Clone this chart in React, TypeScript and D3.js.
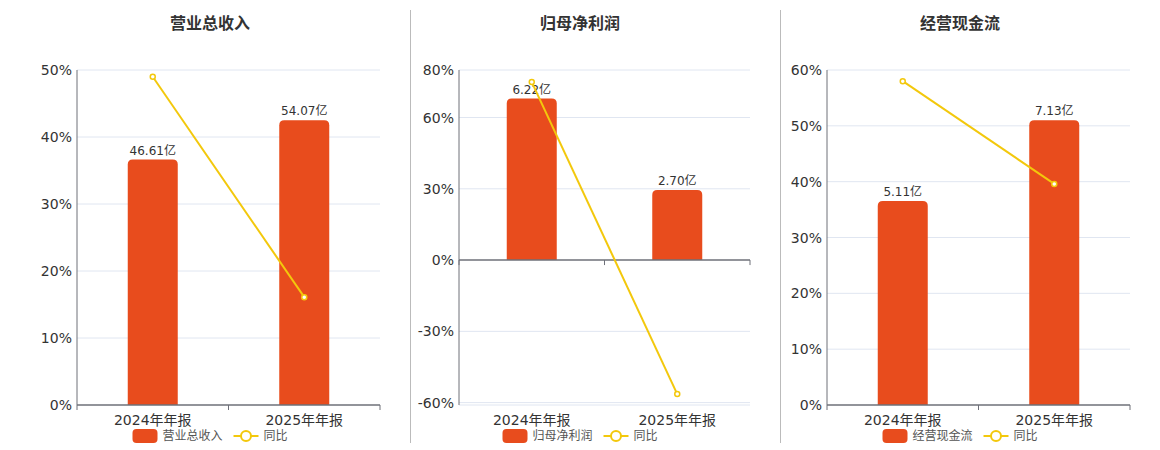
import * as d3 from "d3";

const categories = ["2024年年报", "2025年年报"];

const titles = ["营业总收入", "归母净利润", "经营现金流"];

// bar values (亿) and year-on-year growth (%)
const revenue = [46.61, 54.07];
const revenueYoY = [49.0, 16.1];
const netProfit = [6.22, 2.7];
const netProfitYoY = [74.9, -56.4];
const cashFlow = [5.11, 7.13];
const cashFlowYoY = [58.0, 39.6];

const revenueTicks = [0, 10, 20, 30, 40, 50];
const netProfitTicks = [-60, -30, 0, 30, 60, 80];
const cashFlowTicks = [0, 10, 20, 30, 40, 50, 60];

const revenueDomain: [number, number] = [0, 50];
const netProfitDomain: [number, number] = [-61, 80];
const cashFlowDomain: [number, number] = [0, 60];

const BAR_COLOR = "#E84C1D";
const LINE_COLOR = "#F3C80C";
const GRID_COLOR = "#E0E6F1";
const AXIS_COLOR = "#6E7079";
const FONT = "'DejaVu Sans', 'Noto Sans CJK SC', sans-serif";

const top = 70;
const bottom = 405;

interface PanelProps {
  title: string;
  values: number[];
  yoy: number[];
  ticks: number[];
  domain: [number, number];
  center: number;
  left: number;
  right: number;
}

function roundedTop(x: number, y: number, w: number, h: number, r: number) {
  const rr = Math.min(r, h, w / 2);
  return `M${x},${y + h}V${y + rr}Q${x},${y} ${x + rr},${y}H${x + w - rr}Q${x + w},${y} ${x + w},${y + rr}V${y + h}Z`;
}

function Panel({ title, values, yoy, ticks, domain, center, left, right }: PanelProps) {
  const x = d3.scaleBand<string>().domain(categories).range([left, right]);
  const y = d3.scaleLinear().domain(domain).range([bottom, top]);

  // hidden value axis for the bars, zero aligned with the percent axis
  const barMax = d3.max(values)! / 0.85;
  const barMin = (barMax * domain[0]) / domain[1];
  const yBar = d3.scaleLinear().domain([barMin, barMax]).range([bottom, top]);

  const zeroY = y(0);
  const barW = 50;

  const line = d3
    .line<number>()
    .x((_, i) => x(categories[i])! + x.bandwidth() / 2)
    .y((d) => y(d));

  const legendW = 155;
  const lx = center - legendW / 2;
  const ly = 436;

  return (
    <g>
      <text
        x={center}
        y={29}
        textAnchor="middle"
        fontSize={16}
        fontWeight="bold"
        fill="#333"
      >
        {title}
      </text>

      {ticks.map((t) => (
        <g key={t}>
          {t !== 0 && (
            <line x1={left} x2={right} y1={y(t)} y2={y(t)} stroke={GRID_COLOR} />
          )}
          <text
            x={left - 5}
            y={y(t)}
            dy="0.36em"
            textAnchor="end"
            fontSize={14}
            fill="#333"
          >
            {t}%
          </text>
        </g>
      ))}
      {domain[0] < ticks[0] && (
        <line x1={left} x2={right} y1={bottom} y2={bottom} stroke={GRID_COLOR} />
      )}

      <line x1={left} x2={left} y1={top} y2={bottom} stroke={AXIS_COLOR} />

      {values.map((v, i) => {
        const bx = x(categories[i])! + (x.bandwidth() - barW) / 2;
        const by = yBar(v);
        return (
          <g key={i}>
            <path d={roundedTop(bx, by, barW, zeroY - by, 5)} fill={BAR_COLOR} />
            <text
              x={bx + barW / 2}
              y={by - 5}
              textAnchor="middle"
              fontSize={12}
              fill="#333"
            >
              {v.toFixed(2)}亿
            </text>
          </g>
        );
      })}

      <line x1={left} x2={right} y1={zeroY} y2={zeroY} stroke={AXIS_COLOR} strokeWidth={1.5} />
      {[left, ...categories.map((c) => x(c)! + x.bandwidth())].map((tx, i) => (
        <line key={i} x1={tx} x2={tx} y1={zeroY} y2={zeroY + 5} stroke={AXIS_COLOR} />
      ))}
      {categories.map((c) => (
        <text
          key={c}
          x={x(c)! + x.bandwidth() / 2}
          y={425}
          textAnchor="middle"
          fontSize={14}
          fill="#333"
        >
          {c}
        </text>
      ))}

      <path d={line(yoy)!} fill="none" stroke={LINE_COLOR} strokeWidth={2} />
      {yoy.map((v, i) => (
        <circle
          key={i}
          cx={x(categories[i])! + x.bandwidth() / 2}
          cy={y(v)}
          r={2.5}
          fill="#fff"
          stroke={LINE_COLOR}
          strokeWidth={1.5}
        />
      ))}

      <g>
        <rect x={lx} y={ly - 7} width={25} height={14} rx={4} fill={BAR_COLOR} />
        <text x={lx + 30} y={ly} dy="0.36em" fontSize={12} fill="#555">
          {title}
        </text>
        <line x1={lx + 101} x2={lx + 126} y1={ly} y2={ly} stroke={LINE_COLOR} strokeWidth={2} />
        <circle cx={lx + 113.5} cy={ly} r={5} fill="#fff" stroke={LINE_COLOR} strokeWidth={2} />
        <text x={lx + 131} y={ly} dy="0.36em" fontSize={12} fill="#555">
          同比
        </text>
      </g>
    </g>
  );
}

export default function App() {
  return (
    <svg
      width={1160}
      height={450}
      style={{ position: "absolute", left: 0, top: 0, background: "#fff" }}
      fontFamily={FONT}
    >
      <Panel
        title={titles[0]}
        values={revenue}
        yoy={revenueYoY}
        ticks={revenueTicks}
        domain={revenueDomain}
        center={210}
        left={77}
        right={380}
      />
      <Panel
        title={titles[1]}
        values={netProfit}
        yoy={netProfitYoY}
        ticks={netProfitTicks}
        domain={netProfitDomain}
        center={580}
        left={459}
        right={750}
      />
      <Panel
        title={titles[2]}
        values={cashFlow}
        yoy={cashFlowYoY}
        ticks={cashFlowTicks}
        domain={cashFlowDomain}
        center={960}
        left={827}
        right={1130}
      />
      <line x1={410.5} x2={410.5} y1={10} y2={443} stroke="#bbb" />
      <line x1={780.5} x2={780.5} y1={10} y2={443} stroke="#bbb" />
    </svg>
  );
}
